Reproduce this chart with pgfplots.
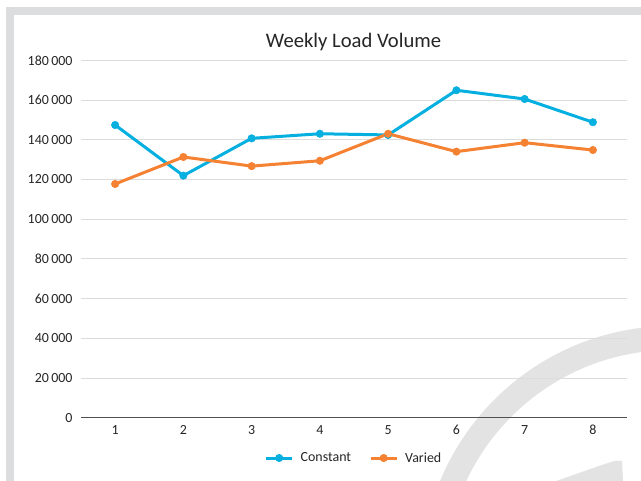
\documentclass[border=0pt]{standalone}
\usepackage{pgfplots}
\pgfplotsset{compat=1.18}
\usepackage{fontspec}
\setmainfont{Carlito}
\definecolor{cconst}{HTML}{05B0E0}
\definecolor{cvar}{HTML}{F58232}
\definecolor{cgrid}{HTML}{DCDCDC}
\definecolor{cframe}{HTML}{DCDDDF}
\definecolor{cwm}{HTML}{E3E3E3}
\definecolor{caxis}{HTML}{505050}
\definecolor{ctext}{HTML}{262626}
\pgfplotstableread{
x const var
1 147400 117700
2 121900 131300
3 140700 126700
4 143000 129400
5 142400 143000
6 164900 134000
7 160500 138500
8 148800 134800
}\loadtable
\begin{document}
\begin{tikzpicture}[x=1bp,y=1bp]
\useasboundingbox (0,0) rectangle (641,481);
\fill[cframe] (6,0) rectangle (641,474.3);
\fill[white] (13.5,0) rectangle (641,466);
\begin{scope}
\clip (13.5,0) rectangle (641,466);
\draw[cwm, line width=24bp] (672,-96) circle[radius=239];
\fill[cwm] (556,0) .. controls (580,8) and (600,16) .. (615,20) -- (622,20) -- (623,0) -- cycle;
\end{scope}
\node[font=\fontsize{20.7}{24}\selectfont, text=ctext, anchor=base, inner sep=0pt] at (353.5,433.2) {Weekly Load Volume};
\begin{axis}[
  at={(81bp,63.3bp)}, anchor=south west,
  scale only axis, width=546bp, height=357.4bp,
  xmin=0.5, xmax=8.5, ymin=0, ymax=180000,
  axis x line*=bottom, axis y line*=left,
  x axis line style={draw=caxis, line width=1.5bp},
  y axis line style={draw=none},
  xtick={1,...,8}, ytick={0,20000,...,180000},
  major tick style={draw=none},
  ymajorgrids, grid style={cgrid, line width=0.8bp},
  scaled y ticks=false,
  tick label style={font=\fontsize{14}{16}\selectfont, text=ctext},
  /pgf/number format/assume math mode=true,
  yticklabel style={/pgf/number format/fixed, /pgf/number format/1000 sep={\,}, xshift=-5bp},
  xticklabel style={yshift=-4bp},
  legend style={at={(0.5,-0.1128)}, anchor=center, draw=none, fill=none,
    font=\fontsize{14}{16}\selectfont, text=ctext,
    /tikz/every odd column/.append style={column sep=5bp},
    /tikz/every even column/.append style={column sep=16bp}},
  legend columns=2,
  legend image code/.code={\draw[mark repeat=2,mark phase=2,#1] plot coordinates {(0bp,0bp)(13bp,0bp)(26bp,0bp)};},
]
\addplot[cconst, line width=3bp, mark=*, mark size=3.7bp, mark options={solid, line width=0.6bp}] table[x=x,y=const] {\loadtable};
\addlegendentry{Constant}
\addplot[cvar, line width=3bp, mark=*, mark size=3.7bp, mark options={solid, line width=0.6bp}] table[x=x,y=var] {\loadtable};
\addlegendentry{Varied}
\end{axis}
\end{tikzpicture}
\end{document}
